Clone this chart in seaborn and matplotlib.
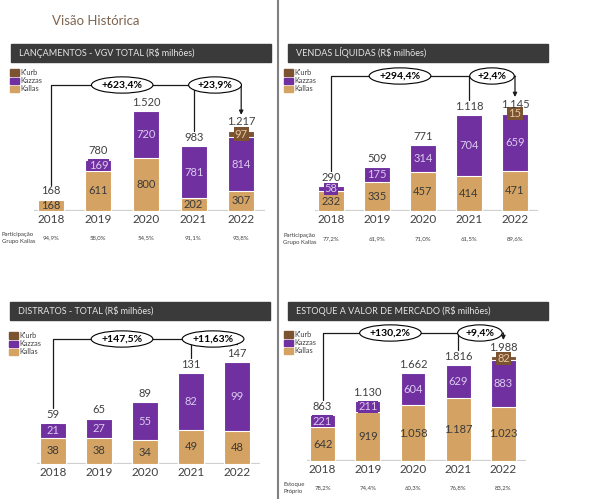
import numpy as np
import matplotlib
matplotlib.use('Agg')
from matplotlib import pyplot as plt
from matplotlib.patches import Patch, Rectangle
import seaborn as sns

# Dados (R$ milhões)
years = ['2018', '2019', '2020', '2021', '2022']

lanc_kallas = [168, 611, 800, 202, 307]
lanc_kazzas = [0, 169, 720, 781, 814]
lanc_kurb = [0, 0, 0, 0, 97]
lanc_total = [168, 780, 1520, 983, 1217]
lanc_growth = ['+623,4%', '+23,9%']
lanc_part = ['94,9%', '58,0%', '54,5%', '91,1%', '93,8%']

vendas_kallas = [232, 335, 457, 414, 471]
vendas_kazzas = [58, 175, 314, 704, 659]
vendas_kurb = [0, 0, 0, 0, 15]
vendas_total = [290, 509, 771, 1118, 1145]
vendas_growth = ['+294,4%', '+2,4%']
vendas_part = ['77,2%', '61,9%', '71,0%', '61,5%', '89,6%']

distr_kallas = [38, 38, 34, 49, 48]
distr_kazzas = [21, 27, 55, 82, 99]
distr_kurb = [0, 0, 0, 0, 0]
distr_total = [59, 65, 89, 131, 147]
distr_growth = ['+147,5%', '+11,63%']

estoque_kallas = [642, 919, 1058, 1187, 1023]
estoque_kazzas = [221, 211, 604, 629, 883]
estoque_kurb = [0, 0, 0, 0, 82]
estoque_total = [863, 1130, 1662, 1816, 1988]
estoque_growth = ['+130,2%', '+9,4%']
estoque_part = ['78,2%', '74,4%', '60,3%', '76,8%', '83,2%']

C_KALLAS = '#D4A262'
C_KAZZAS = '#7030A0'
C_KURB = '#7B5331'
TXT = '#404040'

W, H = 593, 499

sns.set_style('white')
plt.rcParams['font.family'] = ['Lato', 'DejaVu Sans']


def fmt(v):
    return f'{v:,}'.replace(',', '.')


def fx(px):
    return px / W


def fy(py):
    return 1 - py / H


fig = plt.figure(figsize=(W / 100, H / 100), dpi=100)


def header(x0, y0, x1, y1, title):
    fig.patches.append(Rectangle((fx(x0), fy(y1)), fx(x1 - x0), (y1 - y0) / H,
                                 transform=fig.transFigure, color='#3A3A3A', zorder=0))
    fig.text(fx(x0 + 8), fy((y0 + y1) / 2), title, color='#E6E6E6', fontsize=6.5,
             va='center', ha='left')


def legend(x, y):
    handles = [Patch(color=C_KURB, label="K'urb"),
               Patch(color=C_KAZZAS, label='Kazzas'),
               Patch(color=C_KALLAS, label='Kallas')]
    leg = fig.legend(handles=handles, loc='upper left', bbox_to_anchor=(fx(x), fy(y)),
                     frameon=False, fontsize=5.3, handlelength=1.25, handleheight=0.9,
                     handletextpad=0.2, labelspacing=0.15, borderpad=0, borderaxespad=0)
    for t in leg.get_texts():
        t.set_color(TXT)


def panel(box, scale, kallas, kazzas, kurb, totals, growth, bracket_py, mid2):
    left, right, base, top = box
    ax = fig.add_axes([fx(left), fy(base), fx(right - left), (base - top) / H])
    height_px = base - top
    # scale = (valor, pixels) usado para o eixo y
    ytop = scale[0] * height_px / scale[1]
    per_px = ytop / height_px

    lev2 = [a + b for a, b in zip(kallas, kazzas)]
    lev3 = [a + b for a, b in zip(lev2, kurb)]
    for vals, col in [(lev3, C_KURB), (lev2, C_KAZZAS), (kallas, C_KALLAS)]:
        sns.barplot(x=years, y=vals, color=col, saturation=1, width=0.55,
                    edgecolor='white', linewidth=0.8, ax=ax)

    ax.set_xlim(-0.5, 4.5)
    ax.set_ylim(0, ytop)
    for s in ax.spines.values():
        s.set_visible(False)
    ax.set_yticks([])
    ax.set_xlabel('')
    ax.set_ylabel('')
    ax.tick_params(axis='x', length=0, labelsize=8.5, colors=TXT, pad=2)
    ax.plot([-0.35, 4.5], [0, 0], color='#D0D0D0', lw=1.6, zorder=0.5,
            solid_capstyle='butt')
    ax.patch.set_alpha(0)

    for i in range(len(years)):
        if kallas[i]:
            ax.text(i, kallas[i] / 2, fmt(kallas[i]), ha='center', va='center',
                    fontsize=8, color='#3A3A3A')
        if kazzas[i]:
            ax.text(i, kallas[i] + kazzas[i] / 2, fmt(kazzas[i]), ha='center', va='center',
                    fontsize=8, color='#DCCBEE',
                    bbox=dict(boxstyle='square,pad=0.05', fc=C_KAZZAS, ec='none'))
        if kurb[i]:
            ax.text(i, lev2[i] + kurb[i] / 2, fmt(kurb[i]), ha='center', va='center',
                    fontsize=8, color='#E8C9A0',
                    bbox=dict(boxstyle='square,pad=0.1', fc=C_KURB, ec='none'))
        ax.annotate(fmt(totals[i]), (i, lev3[i]), xytext=(0, 2.5), textcoords='offset points',
                    ha='center', va='bottom', fontsize=8, color=TXT)

    # colchetes de crescimento
    yb = (base - bracket_py) * per_px
    lc = '#1A1A1A'
    ax.plot([0, 0, 4], [lev3[0] + 15 * per_px, yb, yb], color=lc, lw=0.9, zorder=3)
    ax.plot([3, 3], [lev3[3] + 15 * per_px, yb], color=lc, lw=0.9, zorder=3)
    ax.annotate('', xy=(4, lev3[4] + 16 * per_px), xytext=(4, yb),
                arrowprops=dict(arrowstyle='-|>', color=lc, lw=0.9, mutation_scale=6,
                                shrinkA=0, shrinkB=0), zorder=3)
    for xg, g in zip([1.5, mid2], growth):
        ax.text(xg, yb, g, ha='center', va='center', fontsize=7.5, fontweight='bold',
                color='black', zorder=4,
                bbox=dict(boxstyle='ellipse,pad=0.12', fc='white', ec='black', lw=0.8))
    return ax


def participacao(label, x, y, centers, values):
    fig.text(fx(x), fy(y), label, fontsize=4.3, color=TXT, ha='left', va='center',
             linespacing=1.5)
    for c, v in zip(centers, values):
        fig.text(fx(c), fy(y), v, fontsize=4.3, color=TXT, ha='center', va='center')


fig.text(fx(52), fy(21), 'Visão Histórica', fontsize=9.5, color='#7F6550',
         ha='left', va='center')

# divisória vertical
fig.add_artist(plt.Line2D([fx(278), fx(278)], [0, 1], color='#808080', lw=1.5,
                          transform=fig.transFigure))

header(11, 44, 271, 62, 'LANÇAMENTOS - VGV TOTAL (R$ milhões)')
header(288, 44, 548, 62, 'VENDAS LÍQUIDAS (R$ milhões)')
header(10, 302, 270, 320, 'DISTRATOS - TOTAL (R$ milhões)')
header(288, 302, 548, 320, 'ESTOQUE A VALOR DE MERCADO (R$ milhões)')

legend(10, 69)
legend(284, 69)
legend(9, 332)
legend(284, 331)

panel((27, 265, 211, 64), (1520, 100), lanc_kallas, lanc_kazzas, lanc_kurb,
      lanc_total, lanc_growth, 85, 3.45)
panel((308, 538, 211, 64), (1145, 98), vendas_kallas, vendas_kazzas, vendas_kurb,
      vendas_total, vendas_growth, 76, 3.5)
panel((30, 260, 464, 322), (147, 102), distr_kallas, distr_kazzas, distr_kurb,
      distr_total, distr_growth, 339, 3.48)
panel((300, 526, 461, 322), (1988, 105), estoque_kallas, estoque_kazzas, estoque_kurb,
      estoque_total, estoque_growth, 333, 3.48)

participacao('Participação\nGrupo Kallas', 2, 238, [51, 98, 146, 193, 241], lanc_part)
participacao('Participação\nGrupo Kallas', 283, 239, [331, 377, 423, 469, 515], vendas_part)
participacao('Estoque\nPróprio', 283, 488, [323, 368, 413, 458, 503], estoque_part)

fig.savefig('out.png', dpi=100)
